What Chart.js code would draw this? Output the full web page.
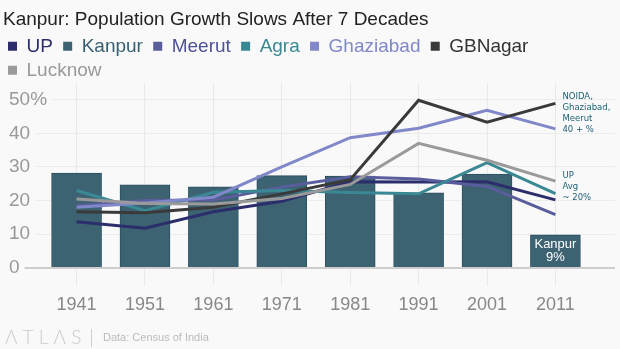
<!DOCTYPE html>
<html>
<head>
<meta charset="utf-8">
<script src="https://cdn.jsdelivr.net/npm/chart.js@4"></script>
<style>
  html, body { margin: 0; padding: 0; background: #f9f9f9; }
</style>
</head>
<body>
<canvas id="growthChart" width="620" height="349"></canvas>
<script>
// decadal population growth, % (Census of India)
const years = [1941, 1951, 1961, 1971, 1981, 1991, 2001, 2011];
const upGrowth        = [13.7, 11.8, 16.7, 19.8, 25.6, 25.5, 25.6, 20.2];
const kanpurGrowth    = [28.2, 24.7, 24.1, 27.4, 27.3, 22.3, 27.9, 9.8];
const meerutGrowth    = [18.5, 20.0, 20.2, 24.0, 27.1, 26.4, 24.2, 15.8];
const agraGrowth      = [23.0, 17.0, 22.5, 23.0, 22.4, 22.0, 31.3, 22.1];
const ghaziabadGrowth = [18.0, 19.3, 21.0, 30.0, 38.7, 41.5, 46.8, 41.3];
const gbnagarGrowth   = [16.7, 16.4, 18.0, 22.0, 26.2, 49.8, 43.3, 48.9];
const lucknowGrowth   = [20.5, 19.1, 19.0, 20.6, 24.8, 37.0, 32.0, 25.8];
const yTicks = [0, 10, 20, 30, 40, 50];

const topNote = ['NOIDA,', 'Ghaziabad,', 'Meerut', '40 + %'];
const upNote = ['UP', 'Avg', '~ 20%'];
const kanpurNote = ['Kanpur', '9%'];

Chart.defaults.font.family = "'Liberation Sans', Arial, sans-serif";

const toPoints = vals => years.map((yr, i) => ({ x: yr, y: vals[i] }));

function lineSet(label, vals, color, textColor, order) {
  return {
    type: 'line',
    label,
    data: toPoints(vals),
    borderColor: color,
    backgroundColor: color,
    borderWidth: 3,
    pointRadius: 0,
    tension: 0,
    order,
    swatch: color,
    textColor
  };
}

const canvasBg = {
  id: 'canvasBg',
  beforeDraw(chart) {
    const { ctx, width, height } = chart;
    ctx.save();
    ctx.fillStyle = '#f9f9f9';
    ctx.fillRect(0, 0, width, height);
    ctx.restore();
  }
};

const notes = {
  id: 'notes',
  afterDatasetsDraw(chart) {
    const { ctx, scales: { x, y } } = chart;
    const last = years[years.length - 1];
    ctx.save();
    ctx.textBaseline = 'middle';

    ctx.font = '8.5px "DejaVu Sans"';
    ctx.fillStyle = '#1d5f75';
    const nx = x.getPixelForValue(last) + 7;
    const topY = y.getPixelForValue(50.8);
    topNote.forEach((t, i) => ctx.fillText(t, nx, topY + i * 11));
    const upY = y.getPixelForValue(27.5);
    upNote.forEach((t, i) => ctx.fillText(t, nx, upY + i * 11));

    // label inside the last Kanpur bar
    ctx.font = '13px "Liberation Sans"';
    ctx.fillStyle = '#ffffff';
    ctx.textAlign = 'center';
    const kx = x.getPixelForValue(last);
    const ky = y.getPixelForValue(kanpurGrowth[kanpurGrowth.length - 1] / 2);
    ctx.fillText(kanpurNote[0], kx, ky - 6.5);
    ctx.fillText(kanpurNote[1], kx, ky + 6.5);
    ctx.restore();
  },
  afterDraw(chart) {
    const { ctx } = chart;
    ctx.save();
    ctx.textBaseline = 'middle';
    ctx.font = '300 19px Lato';
    ctx.fillStyle = '#cacaca';
    ctx.fillText('Λ T L Λ S', 5, 338);
    ctx.strokeStyle = '#d0d0d0';
    ctx.lineWidth = 1;
    ctx.beginPath();
    ctx.moveTo(91.5, 329);
    ctx.lineTo(91.5, 347);
    ctx.stroke();
    ctx.font = '11px "Liberation Sans"';
    ctx.fillStyle = '#bbbbbb';
    ctx.fillText('Data: Census of India', 103, 338);
    ctx.restore();
  }
};

new Chart(document.getElementById('growthChart'), {
  type: 'bar',
  data: {
    datasets: [
      lineSet('UP', upGrowth, '#2c2d6b', '#2c2d6b', 7),
      {
        type: 'bar',
        label: 'Kanpur',
        data: toPoints(kanpurGrowth),
        backgroundColor: '#3d6272',
        borderColor: '#2b5060',
        borderWidth: 1,
        barThickness: 50,
        order: 8,
        swatch: '#3d6272',
        textColor: '#36606f'
      },
      lineSet('Meerut', meerutGrowth, '#5a5d9c', '#4e5196', 6),
      lineSet('Agra', agraGrowth, '#3a8893', '#3a8893', 5),
      lineSet('Ghaziabad', ghaziabadGrowth, '#8188c9', '#8188c9', 4),
      lineSet('GBNagar', gbnagarGrowth, '#3a3a3a', '#333333', 3),
      lineSet('Lucknow', lucknowGrowth, '#9a9a9a', '#999999', 2)
    ]
  },
  options: {
    responsive: false,
    animation: false,
    layout: { padding: { left: 3, right: 5, top: 4, bottom: 25.5 } },
    scales: {
      x: {
        type: 'linear',
        offset: false,
        min: 1930.83,
        max: 2019.71,
        afterBuildTicks: s => { s.ticks = years.map(v => ({ value: v })); },
        border: { display: false },
        grid: { offset: false, color: '#e9e9e9', tickLength: 18 },
        ticks: {
          padding: 8,
          color: '#888',
          font: { size: 18 },
          autoSkip: false,
          maxRotation: 0,
          callback: v => String(v)
        }
      },
      y: {
        min: 0,
        max: 55,
        afterBuildTicks: s => { s.ticks = yTicks.map(v => ({ value: v })); },
        border: { display: false },
        grid: {
          drawTicks: false,
          color: c => (c.tick && c.tick.value === 0 ? '#cdcdcd' : '#ececec'),
          lineWidth: c => (c.tick && c.tick.value === 0 ? 2 : 1)
        },
        ticks: {
          mirror: true,
          padding: 2,
          color: '#999',
          font: { size: 19 },
          showLabelBackdrop: true,
          backdropColor: '#f9f9f9',
          backdropPadding: { left: 3, right: 5, top: 0, bottom: 0 },
          callback: v => (v === 50 ? '50%' : String(v))
        }
      }
    },
    plugins: {
      title: {
        display: true,
        text: 'Kanpur: Population Growth Slows After 7 Decades',
        align: 'start',
        color: '#222',
        font: { size: 19, weight: 'normal' },
        padding: { top: 4, bottom: 1 }
      },
      legend: {
        position: 'top',
        align: 'start',
        maxHeight: 51,
        labels: {
          boxWidth: 9,
          boxHeight: 9,
          padding: 5,
          font: { size: 19 },
          sort: (a, b) => a.datasetIndex - b.datasetIndex,
          generateLabels: chart =>
            Chart.defaults.plugins.legend.labels.generateLabels(chart).map(item => {
              const ds = chart.data.datasets[item.datasetIndex];
              item.text = item.text + ' ';
              item.fillStyle = ds.swatch;
              item.strokeStyle = ds.swatch;
              item.lineWidth = 0;
              item.fontColor = ds.textColor;
              return item;
            })
        }
      },
      tooltip: { enabled: false }
    }
  },
  plugins: [canvasBg, notes]
});
</script>
</body>
</html>
